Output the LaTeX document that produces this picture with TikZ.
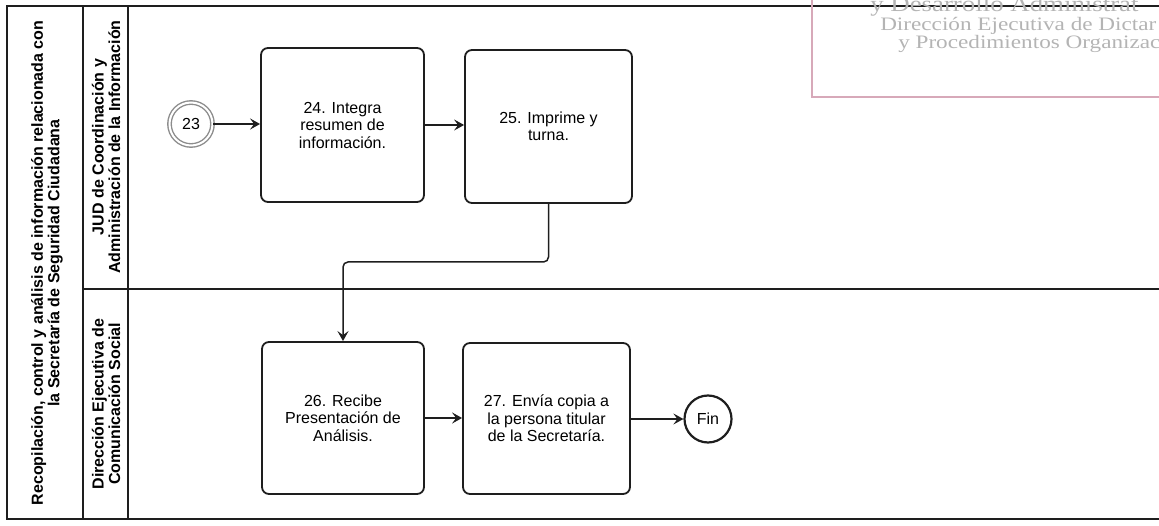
\documentclass[tikz,border=0pt]{standalone}
\usepackage{fontspec}
\setmainfont{Liberation Sans}
\newfontfamily\stampfont{Liberation Serif}
\usetikzlibrary{arrows.meta,positioning}
\definecolor{Ink}{HTML}{1E1E1E}
\definecolor{StartGray}{HTML}{8C8C8C}
\definecolor{StampRose}{HTML}{D7A9B9}
\definecolor{StampText}{HTML}{B4B4B4}

\begin{document}
\begin{tikzpicture}[x=1pt, y=-1pt, >={Stealth[length=10pt,width=11pt,inset=4pt]},
    task/.style={draw=Ink, line width=1.8pt, rounded corners=7pt, inner sep=0pt,
        align=center, font=\fontsize{16}{17.5}\selectfont},
    lanelabel/.style={rotate=90, align=center, font=\fontsize{16}{16.5}\selectfont\bfseries},
    flow/.style={->, draw=Ink, line width=1.2pt},
    boldflow/.style={->, draw=Ink, line width=2pt},
    stamptext/.style={StampText, anchor=west, inner sep=0pt, xscale=1.22,
        font=\stampfont\fontsize{19}{20}\selectfont}]
    \useasboundingbox (0,0) rectangle (1159,526);
    \clip (0,0) rectangle (1159,526);

    % Pool and lanes
    \draw[Ink, line width=1.1pt] (1159,6) -- (7,6) -- (7,519) -- (1159,519);
    \draw[Ink, line width=1.1pt] (83,6) -- (83,519);
    \draw[Ink, line width=1.1pt] (128,6) -- (128,519);
    \draw[Ink, line width=1.1pt] (83,289) -- (1159,289);

    % Pool and lane titles
    \node[lanelabel] (pool) at (47,263) {Recopilación, control y análisis de información relacionada con\\la Secretaría de Seguridad Ciudadana};
    \node[lanelabel] (jud) at (106,147) {JUD de Coordinación y\\Administración de la Información};
    \node[lanelabel] (dirsocial) at (106,404) {Dirección Ejecutiva de\\Comunicación Social};

    % Start (off-page link 23)
    \node[circle, draw=StartGray, line width=1.4pt, minimum size=43pt, double=white,
        double distance=2pt, inner sep=0pt, font=\fontsize{16}{18}\selectfont] (s23) at (191,124) {23};

    % Tasks
    \node[task, minimum width=163pt, minimum height=154pt] (t24) at (342.5,125) {24. Integra\\resumen de\\información.};
    \node[task, minimum width=167pt, minimum height=153pt] (t25) at (548.5,126.5) {25. Imprime y\\turna.};
    \node[task, minimum width=162pt, minimum height=152pt] (t26) at (343,418) {26. Recibe\\Presentación de\\Análisis.};
    \node[task, minimum width=167pt, minimum height=151pt] (t27) at (546.5,418.5) {27. Envía copia a\\la persona titular\\de la Secretaría.};

    % End
    \node[circle, draw=Ink, line width=2.2pt, minimum size=47pt, inner sep=0pt,
        font=\fontsize{16}{18}\selectfont] (fin) at (708,419) {Fin};

    % Flows
    \draw[boldflow] (s23) -- (t24.west |- s23);
    \draw[flow] (t24.east |- 0,125) -- (t25.west |- 0,125);
    \coordinate (turn) at (445,262);
    \draw[flow, line width=1.5pt, rounded corners=5pt] (t25.south) -- (t25.south |- turn) -- (t26.north |- turn) -- (t26.north);
    \draw[boldflow] (t26.east |- 0,418) -- (t27.west |- 0,418);
    \draw[flow] (t27.east |- fin) -- (fin);

    % Scanned stamp
    \draw[StampRose, line width=1.2pt] (1170,-5) -- (812,-5) -- (812,97) -- (1170,97);
    \node[stamptext, anchor=base west, font=\stampfont\fontsize{22}{22}\selectfont] (stamp1) at (870,12) {y Desarrollo Administrat};
    \node[stamptext] (stamp2) at (880,26) {Dirección Ejecutiva de Dictar};
    \node[stamptext] (stamp3) at (898,44) {y Procedimientos Organizac};

\end{tikzpicture}
\end{document}
